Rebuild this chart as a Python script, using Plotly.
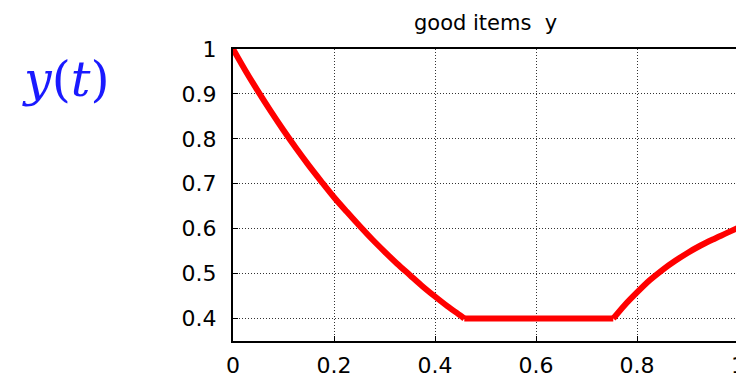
import plotly.graph_objects as go

# Data
t_values = [0.0, 0.025, 0.05, 0.075, 0.10, 0.125, 0.15, 0.175, 0.20, 0.225,
            0.25, 0.275, 0.30, 0.325, 0.35, 0.375, 0.40, 0.425, 0.45, 0.458,
            0.55, 0.65, 0.753, 0.775, 0.80, 0.825, 0.85, 0.875, 0.90, 0.925,
            0.95, 0.975, 1.0]
y_values = [1.0, 0.951, 0.905, 0.861, 0.819, 0.779, 0.741, 0.705, 0.670, 0.638,
            0.607, 0.577, 0.549, 0.522, 0.497, 0.472, 0.449, 0.427, 0.407, 0.400,
            0.400, 0.400, 0.400, 0.429, 0.458, 0.485, 0.508, 0.528, 0.546, 0.562,
            0.576, 0.589, 0.602]
# the curve has corners at these indices (start/end of the flat part)
corner_indices = [19, 22]

x_ticks = [0, 0.2, 0.4, 0.6, 0.8, 1]
x_tick_labels = ["0", "0.2", "0.4", "0.6", "0.8", "1"]
y_ticks = [0.4, 0.5, 0.6, 0.7, 0.8, 0.9, 1.0]
y_tick_labels = ["0.4", "0.5", "0.6", "0.7", "0.8", "0.9", "1"]

title_text = "good items&nbsp;&nbsp;y"
side_label = "<i>y</i>(<i>t</i>)"

fig = go.Figure()
bounds = [0] + corner_indices + [len(t_values) - 1]
for a, b in zip(bounds[:-1], bounds[1:]):
    fig.add_trace(go.Scatter(
        x=t_values[a:b + 1], y=y_values[a:b + 1], mode="lines",
        line=dict(color="#ff0000", width=6, shape="spline", smoothing=0.8),
        hoverinfo="skip", showlegend=False,
    ))

axis_common = dict(
    showline=True, linecolor="black", linewidth=2, mirror=True,
    ticks="inside", ticklen=5, tickcolor="black", tickwidth=1,
    showgrid=True, gridcolor="#333333", gridwidth=1, griddash="1px,2px",
    zeroline=False, automargin=False,
    tickfont=dict(family="DejaVu Sans", size=22, color="black"),
)

fig.update_xaxes(range=[0, 1], tickvals=x_ticks, ticktext=x_tick_labels,
                 ticklabelstandoff=4, **axis_common)
fig.update_yaxes(range=[0.35, 1.0], tickvals=y_ticks, ticktext=y_tick_labels,
                 ticklabelstandoff=10, **axis_common)

fig.add_annotation(
    text=title_text, xref="paper", yref="paper", x=0.5, y=1.0,
    yshift=13, yanchor="bottom", xanchor="center", showarrow=False,
    borderpad=0,
    font=dict(family="DejaVu Sans", size=21, color="black"),
)
fig.add_annotation(
    text=side_label, xref="paper", yref="paper", x=-0.422, y=0.894,
    xanchor="left", yanchor="middle", showarrow=False,
    font=dict(family="DejaVu Serif", size=49, color="#1a1aff"),
)

# The page body adds an 8px offset, so margins are compensated for it.
fig.update_layout(
    width=744, height=377,
    margin=dict(l=225, r=14, t=41, b=44),
    paper_bgcolor="white", plot_bgcolor="white",
)

fig.write_html("out.html")
